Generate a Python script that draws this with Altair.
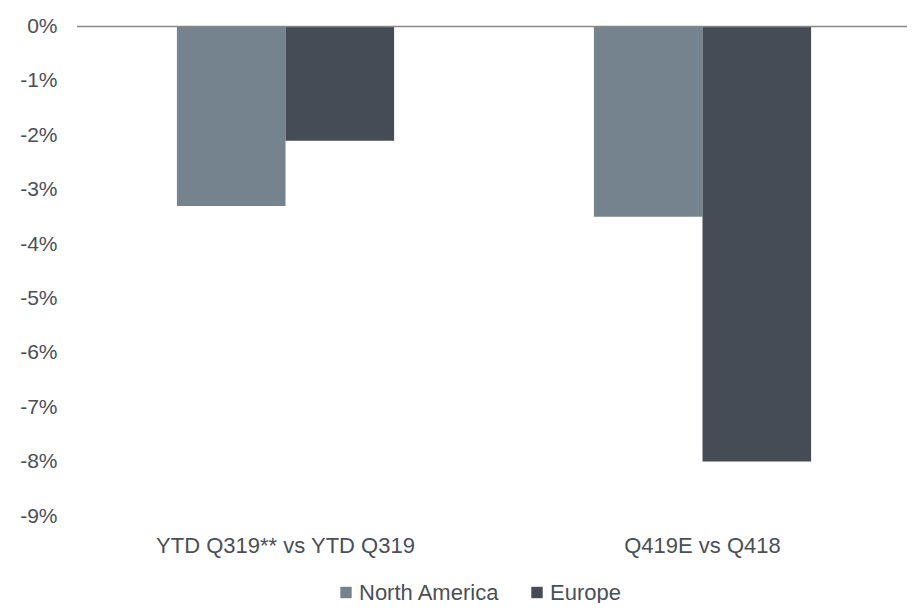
import altair as alt
import pandas as pd

categories = ["YTD Q319** vs YTD Q319", "Q419E vs Q418"]
series = ["North America", "Europe"]
north_america = [-3.3, -3.5]
europe = [-2.1, -8.0]
y_ticks = [0, -1, -2, -3, -4, -5, -6, -7, -8, -9]
colors = ["#75838F", "#454C56"]

rows = []
for i, c in enumerate(categories):
    rows.append({"category": c, "series": series[0], "value": north_america[i]})
    rows.append({"category": c, "series": series[1], "value": europe[i]})
df = pd.DataFrame(rows)

font = "Liberation Sans"
text_color = "#4A4F56"

bars = alt.Chart(df).mark_bar().encode(
    x=alt.X("category:N", sort=categories,
            scale=alt.Scale(paddingInner=0, paddingOuter=0, range=[0, 834]),
            axis=alt.Axis(title=None, domain=False, ticks=False, labelAngle=0,
                          labelFontSize=22, labelFont=font, labelColor=text_color,
                          labelPadding=19, labelLimit=0)),
    xOffset=alt.XOffset("series:N", sort=series,
                        scale=alt.Scale(paddingInner=0, paddingOuter=0.92)),
    y=alt.Y("value:Q", scale=alt.Scale(domain=[-9, 0], nice=False),
            axis=alt.Axis(title=None, values=y_ticks, domain=False, ticks=False,
                          grid=False, labelFontSize=21, labelFont=font,
                          labelColor=text_color, labelPadding=20,
                          labelExpr="datum.value + '%'")),
    color=alt.Color("series:N", sort=series,
                    scale=alt.Scale(domain=series, range=colors),
                    legend=alt.Legend(title=None, orient="none", legendX=258, legendY=555,
                                      direction="horizontal", symbolType="square",
                                      symbolSize=130, symbolStrokeWidth=0,
                                      labelFontSize=22, labelFont=font,
                                      labelColor=text_color, labelOffset=2,
                                      columnPadding=26)),
)

zero = alt.Chart(pd.DataFrame({"y": [0]})).mark_rule(color="#898989", strokeWidth=1.5).encode(
    y=alt.Y("y:Q")
)

chart = alt.layer(bars, zero).properties(
    width=830, height=489.5,
    autosize=alt.AutoSizeParams(type="none"),
    padding={"left": 69, "top": 18.5, "right": 0, "bottom": 87},
).configure_view(stroke=None)

chart.save("out.html", embed_options={"renderer": "svg", "actions": False})
